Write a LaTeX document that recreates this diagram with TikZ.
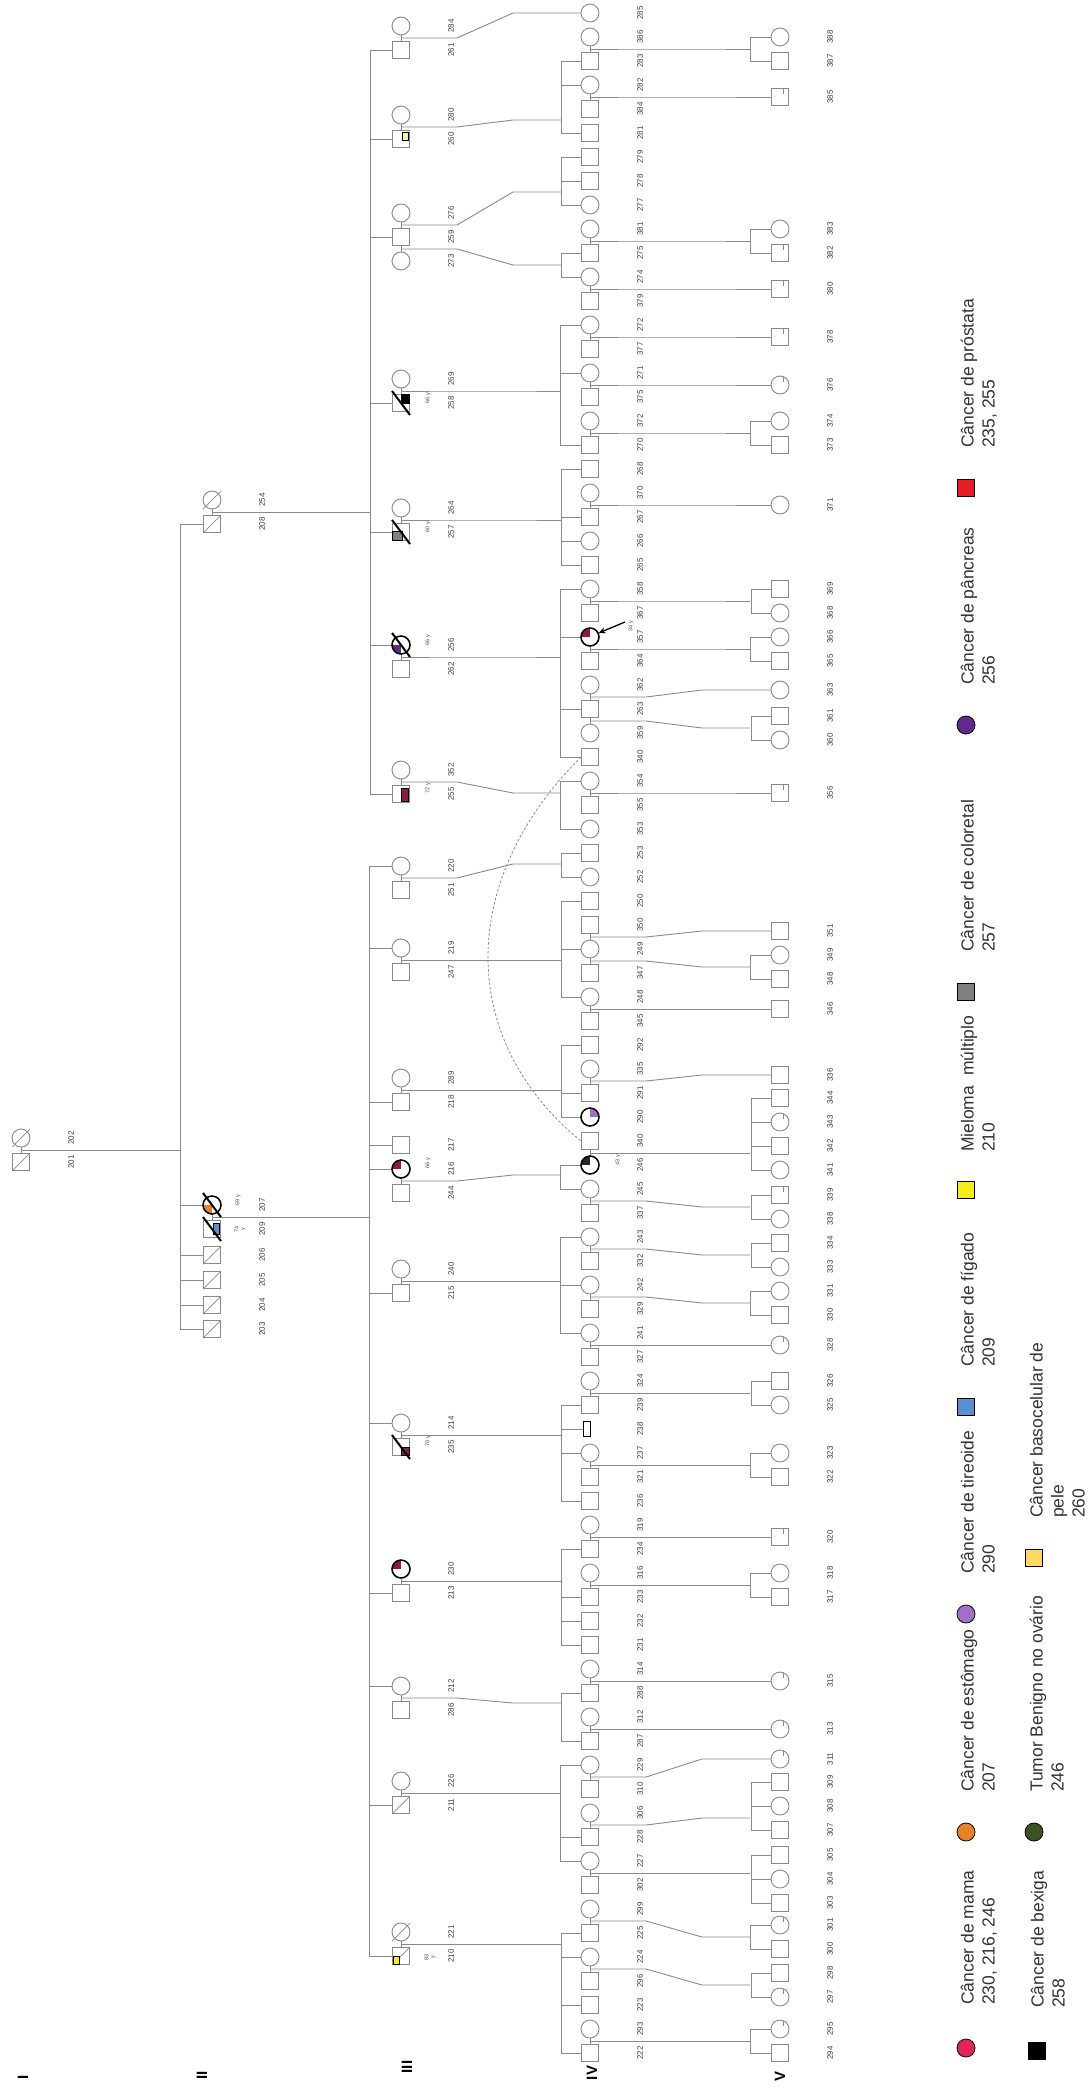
\documentclass[tikz,border=0pt]{standalone}
\usepackage{fontspec}
\setmainfont{Liberation Sans}
\usetikzlibrary{calc,arrows.meta}
\pgfdeclarelayer{bg}
\pgfsetlayers{bg,main}
\definecolor{lg}{HTML}{8A8A8A}
\definecolor{cmaroon}{HTML}{8B1E3F}
\definecolor{cmama}{HTML}{E0245E}
\definecolor{cest}{HTML}{E8822A}
\definecolor{ctir}{HTML}{A070C8}
\definecolor{cfig}{HTML}{5A8FCB}
\definecolor{cmiel}{HTML}{F5EB1E}
\definecolor{ccol}{HTML}{7F7F7F}
\definecolor{cpan}{HTML}{5F2A8C}
\definecolor{cpro}{HTML}{E41E26}
\definecolor{ctum}{HTML}{3A5320}
\definecolor{cbas}{HTML}{FFD966}
\tikzset{
 ln/.style={draw=lg, line width=0.9pt},
 msq/.style={rectangle, draw=lg, fill=white, line width=0.9pt, minimum width=17pt, minimum height=17pt, inner sep=0pt},
 fci/.style={circle, draw=lg, fill=white, line width=0.9pt, minimum size=18pt, inner sep=0pt},
 num/.style={rotate=90, font=\fontsize{8}{9}\selectfont, text=black!75, inner sep=0pt},
 age/.style={rotate=90, font=\fontsize{5.5}{6}\selectfont, text=black!70, inner sep=0pt, align=center},
 genlab/.style={rotate=90, font=\fontsize{15}{16}\selectfont\bfseries, inner sep=0pt},
 legt/.style={rotate=90, font=\fontsize{17.5}{21}\selectfont, text=black!80, inner sep=0pt, anchor=base west},
 lsq/.style={rectangle, draw=black, line width=0.8pt, minimum width=17pt, minimum height=17pt, inner sep=0pt},
 lci/.style={circle, draw=black, line width=0.8pt, minimum size=18pt, inner sep=0pt},
}
\newcommand\lo{50}
\newcommand\Sq[4]{\node[msq] (n#1) at (#2,#3) {}; \node[num] (t#1) at ({#2+\lo},#3) {#4};}
\newcommand\Ci[4]{\node[fci] (n#1) at (#2,#3) {}; \node[num] (t#1) at ({#2+\lo},#3) {#4};}
\newcommand\IVs[2]{\Sq{#1}{590}{{13+24*#2}}{#1}}
\newcommand\IVc[2]{\Ci{#1}{590}{{13+24*#2}}{#1}}
\newcommand\Vs[2]{\Sq{#1}{780}{#2}{#1}}
\newcommand\Vc[2]{\Ci{#1}{780}{#2}{#1}}
\newcommand\IIIs[2]{\Sq{#1}{401}{#2}{#1}}
\newcommand\IIIc[2]{\Ci{#1}{401}{#2}{#1}}
\newcommand\sib[3]{\draw[ln] (n#1.west) -- ++(-#3,0) |- (n#2.west);}
\newcommand\kid[2]{\draw[ln] (n#1.west) -- ++(-#2,0);}
\newcommand\mar[2]{\draw[ln] (n#1) -- (n#2);}
\newcommand\dsc[3]{\draw[ln] ($(n#1)!0.5!(n#2)$) -- ++(56,0) -- ++(56,#3) -- ++(48,0);}
\newcommand\dscto[4]{\draw[ln] ($(n#1)!0.5!(n#2)$) -- ++(56,0) -- ++(56,#3) -- (n#4.west);}
\newcommand\thinsl[1]{\draw[lg, line width=0.7pt] ($(n#1)+(-9,9)$) -- ($(n#1)+(9,-9)$);}
\newcommand\dead[1]{\draw[black, line width=2pt] ($(n#1)+(-9,-12)$) -- ($(n#1)+(9,12)$);}
\newcommand\qsq[4]{\filldraw[fill=#2, draw=black, line width=0.6pt] ($(n#1)+(#3)$) rectangle ($(n#1)+(#4)$);}
\newcommand\qci[3]{\begin{scope}\clip (n#1.center) circle[radius=9]; \fill[#2] (n#1.center) rectangle ++(#3);\end{scope}\draw[black, line width=1.5pt] (n#1.center) circle[radius=9];}
\newcommand\tck[1]{\draw[lg, line width=0.7pt] ($(n#1)+(3,-8.5)$) -- ($(n#1)+(3,-3)$);}
\begin{document}
\begin{tikzpicture}[x=1pt,y=-1pt]
\useasboundingbox (0,0) rectangle (1089,2092);
\begin{pgfonlayer}{bg}
\fill[white] (0,0) rectangle (1089,2092);
\end{pgfonlayer}
% ---------------- Generation I
\Ci{202}{21}{1138}{202} \Sq{201}{21}{1162}{201}
% ---------------- Generation II
\Ci{254}{212}{500}{254} \Sq{208}{212}{524}{208}
\Ci{207}{212}{1205}{207} \Sq{209}{212}{1229}{209}
\Sq{206}{212}{1255}{206} \Sq{205}{212}{1280}{205}
\Sq{204}{212}{1305}{204} \Sq{203}{212}{1329}{203}
% ---------------- Generation III
\IIIc{284}{26} \IIIs{261}{50}
\IIIc{280}{115} \IIIs{260}{139}
\IIIc{276}{213} \IIIs{259}{237} \IIIc{273}{261}
\IIIc{269}{379} \IIIs{258}{403}
\IIIc{264}{508} \IIIs{257}{532}
\IIIc{256}{645} \IIIs{262}{669}
\IIIc{352}{770} \IIIs{255}{794}
\IIIc{220}{866} \IIIs{251}{890}
\IIIc{219}{948} \IIIs{247}{972}
\IIIc{289}{1078} \IIIs{218}{1102}
\IIIs{217}{1145} \IIIc{216}{1169} \IIIs{244}{1193}
\IIIc{240}{1269} \IIIs{215}{1293}
\IIIc{214}{1423} \IIIs{235}{1447}
\IIIc{230}{1569} \IIIs{213}{1593}
\IIIc{212}{1686} \IIIs{286}{1710}
\IIIc{226}{1781} \IIIs{211}{1805}
\IIIc{221}{1932} \IIIs{210}{1956}
% ---------------- Generation IV
\IVc{285}{0} \IVc{386}{1} \IVs{283}{2} \IVc{282}{3} \IVs{384}{4} \IVs{281}{5}
\IVs{279}{6} \IVs{278}{7} \IVc{277}{8} \IVc{381}{9} \IVs{275}{10} \IVc{274}{11}
\IVs{379}{12} \IVc{272}{13} \IVs{377}{14} \IVc{271}{15} \IVs{375}{16} \IVc{372}{17}
\IVs{270}{18} \IVs{268}{19} \IVc{370}{20} \IVs{267}{21} \IVc{266}{22} \IVs{265}{23}
\IVc{358}{24} \IVs{367}{25} \IVc{357}{26} \IVs{364}{27} \IVc{362}{28} \IVs{263}{29}
\IVc{359}{30} \IVs{340}{31} \IVc{354}{32} \IVs{355}{33} \IVc{353}{34} \IVs{253}{35}
\IVc{252}{36} \IVs{250}{37} \IVs{350}{38} \IVc{249}{39} \IVs{347}{40} \IVc{248}{41}
\IVs{345}{42} \IVs{292}{43} \IVc{335}{44} \IVs{291}{45} \IVc{290}{46}
\Sq{340b}{590}{{13+24*47}}{340}
\IVc{246}{48} \IVc{245}{49} \IVs{337}{50} \IVc{243}{51} \IVs{332}{52} \IVc{242}{53}
\IVs{329}{54} \IVc{241}{55} \IVs{327}{56} \IVc{324}{57} \IVs{239}{58}
\node[rectangle, draw=black, fill=white, line width=0.8pt, minimum width=7pt, minimum height=15pt, inner sep=0pt] (n238) at (586.5,1429) {};
\node[num] (t238) at (640,1429) {238};
\IVc{237}{60} \IVs{321}{61} \IVs{236}{62} \IVc{319}{63} \IVs{234}{64} \IVc{316}{65}
\IVs{233}{66} \IVs{232}{67} \IVs{231}{68} \IVc{314}{69} \IVs{288}{70} \IVc{312}{71}
\IVs{287}{72} \IVc{229}{73} \IVs{310}{74} \IVc{306}{75} \IVs{228}{76} \IVc{227}{77}
\IVs{302}{78} \IVc{299}{79} \IVs{225}{80} \IVc{224}{81} \IVs{296}{82} \IVs{223}{83}
\IVc{293}{84} \IVs{222}{85}
% ---------------- Generation V
\Vc{388}{37} \Vs{387}{61} \Vs{385}{97} \Vc{383}{229} \Vs{382}{253} \Vs{380}{289}
\Vs{378}{337} \Vc{376}{385} \Vc{374}{421} \Vs{373}{445} \Vc{371}{505}
\Vs{369}{589} \Vc{368}{613} \Vc{366}{637} \Vs{365}{661} \Vc{363}{690}
\Vs{361}{716} \Vc{360}{740} \Vs{356}{793} \Vs{351}{931} \Vc{349}{955} \Vs{348}{979}
\Vs{346}{1009} \Vs{336}{1075} \Vs{344}{1098} \Vc{343}{1122} \Vs{342}{1146} \Vc{341}{1170}
\Vs{339}{1195} \Vc{338}{1219} \Vs{334}{1243} \Vc{333}{1267} \Vc{331}{1291} \Vs{330}{1315}
\Vc{328}{1345} \Vs{326}{1381} \Vc{325}{1405} \Vc{323}{1453} \Vs{322}{1477} \Vs{320}{1537}
\Vc{318}{1573} \Vs{317}{1597} \Vc{315}{1681} \Vc{313}{1729} \Vc{311}{1759}
\Vs{309}{1782} \Vc{308}{1806} \Vs{307}{1830} \Vs{305}{1855} \Vc{304}{1879} \Vs{303}{1903}
\Vc{301}{1925} \Vs{300}{1949} \Vs{298}{1973} \Vc{297}{1997} \Vc{295}{2029} \Vs{294}{2053}
% small marks in generation V
\tck{385} \tck{382} \tck{380} \tck{378} \tck{376} \tck{356} \tck{343} \tck{339}
\tck{328} \tck{320} \tck{315} \tck{313} \tck{311} \tck{301} \tck{297} \tck{295}
% ---------------- status marks
\thinsl{202} \thinsl{201} \thinsl{254} \thinsl{208} \thinsl{206} \thinsl{205}
\thinsl{204} \thinsl{203} \thinsl{211} \thinsl{221} \thinsl{210}
\qci{207}{cest}{-10,10}
\qsq{209}{cfig}{1,-6}{7.5,5}
\qsq{260}{cmiel!40}{1,-7}{7,1}
\qsq{258}{black}{0,-8.5}{8.5,0}
\qsq{257}{ccol}{-8.5,-1}{1,8.5}
\qci{256}{cpan}{-10,10}
\qsq{255}{cmaroon}{0,-6}{7,7}
\qci{216}{cmaroon}{-10,-10}
\qsq{235}{cmaroon}{0,0}{8.5,8.5}
\qci{230}{cmaroon}{-10,-10}
\qsq{210}{cmiel}{-8,0}{-2,8}
\qci{357}{cmaroon}{-10,-10}
\qci{290}{ctir}{10,-10}
\qci{246}{black!85}{-10,-10}
\dead{207} \dead{209} \dead{258} \dead{257} \dead{256} \dead{235}
% ages
\node[age] at (428,398) {66 y};
\node[age] at (428,527) {60 y};
\node[age] at (428,640) {66 y};
\node[age] at (428,788) {72 y};
\node[age] at (428,1163) {66 y};
\node[age] at (428,1441) {70 y};
\node[age] at (430,1957) {83\\y};
\node[age] at (238,1200) {69 y};
\node[age] at (240,1229) {74\\y};
\node[age] at (618,1160) {43 y};
\node[age] at (631,626) {34 y};
% proband arrow
\coordinate (arrs) at (625,622);
\draw[black, line width=1.3pt, -{Stealth[length=7pt,width=6pt]}] (arrs) -- (n357.25);
% generation labels
\node[genlab] (gI) at (23,2077) {I};
\node[genlab] (gII) at (202,2075) {II};
\node[genlab] (gIII) at (407,2067) {III};
\node[genlab] (gIV) at (592,2073) {IV};
\node[genlab] (gV) at (780,2076) {V};
% ---------------- legend
\node[lci, fill=cmama] (lg1) at (966,2048) {};
\node[legt] at (973.5,2005) {Câncer de mama};
\node[legt] at (994.5,2005) {230, 216, 246};
\node[lci, fill=cest] (lg2) at (966,1832) {};
\node[legt] at (973.5,1792) {Câncer de estômago};
\node[legt] at (994.5,1792) {207};
\node[lci, fill=ctir] (lg3) at (966,1614) {};
\node[legt] at (973.5,1574) {Câncer de tireoide};
\node[legt] at (994.5,1574) {290};
\node[lsq, fill=cfig] (lg4) at (966,1407) {};
\node[legt] at (973.5,1367) {Câncer de fígado};
\node[legt] at (994.5,1367) {209};
\node[lsq, fill=cmiel] (lg5) at (966,1190) {};
\node[legt] at (973.5,1152) {Mieloma\ \ múltiplo};
\node[legt] at (994.5,1152) {210};
\node[lsq, fill=ccol] (lg6) at (966,992) {};
\node[legt] at (973.5,952) {Câncer de coloretal};
\node[legt] at (994.5,952) {257};
\node[lci, fill=cpan] (lg7) at (966,725) {};
\node[legt] at (973.5,685) {Câncer de pâncreas};
\node[legt] at (994.5,685) {256};
\node[lsq, fill=cpro] (lg8) at (966,488) {};
\node[legt] at (973.5,448) {Câncer de próstata};
\node[legt] at (994.5,448) {235, 255};
\node[lsq, fill=black] (lg9) at (1037,2051) {};
\node[legt] at (1043.5,2008) {Câncer de bexiga};
\node[legt] at (1064.5,2008) {258};
\node[lci, fill=ctum] (lg10) at (1034,1832) {};
\node[legt] at (1042.5,1792) {Tumor Benigno no ovário};
\node[legt] at (1063.5,1792) {246};
\node[lsq, fill=cbas] (lg11) at (1034,1558) {};
\node[legt] at (1042.5,1518) {Câncer basocelular de};
\node[legt] at (1063.5,1518) {pele};
\node[legt] at (1084.5,1518) {260};
% ---------------- connectors (background layer)
\begin{pgfonlayer}{bg}
% marriages
\mar{202}{201} \mar{254}{208} \mar{207}{209}
\mar{284}{261} \mar{280}{260} \mar{276}{259} \mar{259}{273} \mar{269}{258} \mar{264}{257}
\mar{256}{262} \mar{352}{255} \mar{220}{251} \mar{219}{247} \mar{289}{218} \mar{216}{244}
\mar{240}{215} \mar{214}{235} \mar{230}{213} \mar{212}{286} \mar{226}{211} \mar{221}{210}
\mar{386}{283} \mar{282}{384} \mar{381}{275} \mar{274}{379} \mar{272}{377} \mar{271}{375}
\mar{372}{270} \mar{370}{267} \mar{358}{367} \mar{357}{364} \mar{362}{263} \mar{263}{359}
\mar{354}{355} \mar{350}{249} \mar{249}{347} \mar{248}{345} \mar{335}{291} \mar{340b}{246}
\mar{245}{337} \mar{243}{332} \mar{242}{329} \mar{241}{327} \mar{324}{239} \mar{237}{321}
\mar{319}{234} \mar{316}{233} \mar{314}{288} \mar{312}{287} \mar{229}{310} \mar{306}{228}
\mar{227}{302} \mar{299}{225} \mar{224}{296} \mar{293}{222}
% generation I -> II
\draw[ln] ($(n202)!0.5!(n201)$) -- ++(159,0);
\sib{208}{203}{23} \kid{207}{23} \kid{206}{23} \kid{205}{23} \kid{204}{23}
% generation II -> III
\draw[ln] ($(n254)!0.5!(n208)$) -- ++(158,0);
\draw[ln] ($(n207)!0.5!(n209)$) -- ++(158,0);
\sib{261}{255}{22} \kid{260}{22} \kid{259}{22} \kid{258}{22} \kid{257}{22} \kid{256}{22}
\sib{220}{210}{22} \kid{219}{22} \kid{218}{22} \kid{217}{22} \kid{216}{22} \kid{215}{22}
\kid{214}{22} \kid{213}{22} \kid{212}{22} \kid{211}{22}
% generation III -> IV
\dscto{284}{261}{-25}{285}
\dsc{280}{260}{-7} \sib{283}{281}{20} \kid{282}{20}
\dsc{276}{259}{-33} \sib{279}{277}{20} \kid{278}{20}
\dsc{259}{273}{16} \sib{275}{274}{20}
\dsc{269}{258}{0} \sib{272}{270}{20} \kid{271}{20}
\dsc{264}{257}{0} \sib{268}{265}{20} \kid{267}{20} \kid{266}{20}
\dsc{256}{262}{0} \sib{358}{340}{20} \kid{357}{20} \kid{263}{20}
\dsc{352}{255}{11} \sib{354}{353}{20}
\dsc{220}{251}{-14} \sib{253}{252}{20}
\dsc{219}{247}{0} \sib{250}{248}{20} \kid{249}{20}
\dsc{289}{218}{0} \sib{292}{290}{20} \kid{291}{20}
\dsc{216}{244}{-6} \sib{246}{245}{20}
\dsc{240}{215}{0} \sib{243}{241}{20} \kid{242}{20}
\dsc{214}{235}{0} \sib{239}{236}{20} \kid{238}{22} \kid{237}{20}
\dsc{230}{213}{0} \sib{234}{231}{20} \kid{233}{20} \kid{232}{20}
\dsc{212}{286}{5} \sib{288}{287}{20}
\dsc{226}{211}{0} \sib{229}{227}{20} \kid{228}{20}
\dsc{221}{210}{0} \sib{225}{222}{20} \kid{224}{20} \kid{223}{20}
% generation IV -> V
\dsc{386}{283}{0} \sib{388}{387}{20}
\dscto{282}{384}{0}{385}
\dsc{381}{275}{0} \sib{383}{382}{20}
\dscto{274}{379}{0}{380}
\dscto{272}{377}{0}{378}
\dscto{271}{375}{0}{376}
\dsc{372}{270}{0} \sib{374}{373}{20}
\dscto{370}{267}{0}{371}
\dsc{358}{367}{0} \sib{369}{368}{20}
\dsc{357}{364}{0} \sib{366}{365}{20}
\dscto{362}{263}{-7}{363}
\dsc{263}{359}{7} \sib{361}{360}{20}
\dscto{354}{355}{0}{356}
\dscto{350}{249}{-6}{351}
\dsc{249}{347}{6} \sib{349}{348}{20}
\dscto{248}{345}{0}{346}
\dscto{335}{291}{-6}{336}
\dsc{340b}{246}{0} \sib{344}{341}{20} \kid{343}{20} \kid{342}{20}
\dsc{245}{337}{6} \sib{339}{338}{20}
\dsc{243}{332}{6} \sib{334}{333}{20}
\dsc{242}{329}{6} \sib{331}{330}{20}
\dscto{241}{327}{0}{328}
\dsc{324}{239}{0} \sib{326}{325}{20}
\dsc{237}{321}{0} \sib{323}{322}{20}
\dscto{319}{234}{0}{320}
\dsc{316}{233}{0} \sib{318}{317}{20}
\dscto{314}{288}{0}{315}
\dscto{312}{287}{0}{313}
\dscto{229}{310}{-18}{311}
\dsc{306}{228}{-7} \sib{309}{307}{20} \kid{308}{20}
\dsc{227}{302}{0} \sib{305}{303}{20} \kid{304}{20}
\dsc{299}{225}{16} \sib{301}{300}{20}
\dsc{224}{296}{16} \sib{298}{297}{20}
\dsc{293}{222}{0} \sib{295}{294}{20}
% same person 340 drawn twice
\draw[lg, line width=0.8pt, dash pattern=on 2.5pt off 2pt] (n340.west) .. controls (457,880) and (457,1040) .. (n340b.west);
\end{pgfonlayer}
\end{tikzpicture}
\end{document}
